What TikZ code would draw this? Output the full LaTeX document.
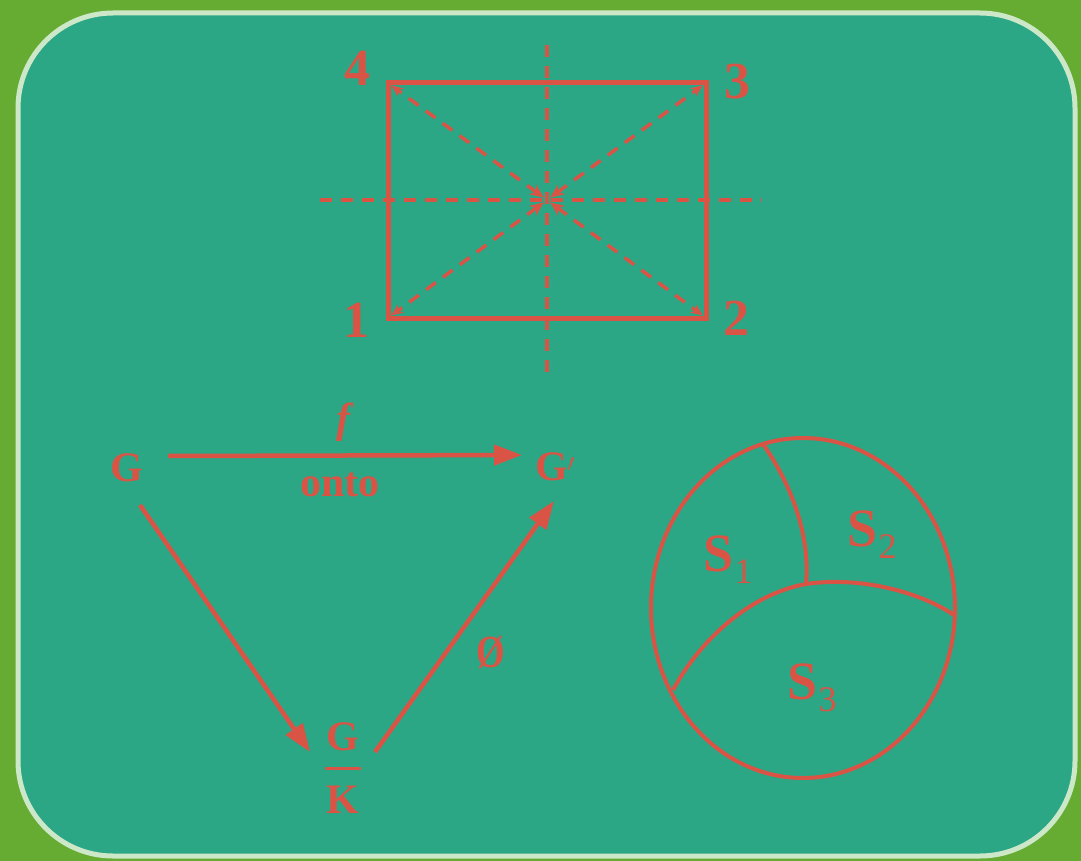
\documentclass[tikz,border=0pt]{standalone}
\usepackage{fontspec}
\setmainfont{Liberation Serif}
\usetikzlibrary{arrows.meta,calc}
\definecolor{bggreen}{RGB}{102,172,50}
\definecolor{panel}{RGB}{44,167,134}
\definecolor{rim}{RGB}{205,232,200}
\definecolor{chalk}{RGB}{218,84,70}
\begin{document}
\begin{tikzpicture}[x=1pt,y=-1pt,
  solidline/.style={draw=chalk,line width=5pt},
  dashline/.style={draw=chalk,line width=3.5pt,dash pattern=on 12pt off 9pt},
  arr/.style={draw=chalk,line width=4.5pt,-{Triangle[length=28pt,width=20pt]}},
  lbl/.style={text=chalk,font=\bfseries\fontsize{52}{52}\selectfont,inner sep=0pt},
  glbl/.style={text=chalk,font=\bfseries\fontsize{42}{42}\selectfont,inner sep=0pt},
  slbl/.style={text=chalk,font=\bfseries\fontsize{54}{54}\selectfont,inner sep=0pt}]
\useasboundingbox (0,0) rectangle (1081,861);
\fill[bggreen] (0,0) rectangle (1081,861);
\draw[rim,fill=panel,line width=5pt,rounded corners=95pt] (18,13) rectangle (1075,856);
% rectangle
\coordinate (c1) at (388,318);
\coordinate (c2) at (706,318);
\coordinate (c3) at (706,83);
\coordinate (c4) at (388,83);
\coordinate (cen) at (547,200);
\coordinate (hl) at (320,200);
\coordinate (hr) at (762,200);
\coordinate (vt) at (547,45);
\coordinate (vb) at (547,372);
\draw[dashline] (hl) -- (hr);
\draw[dashline] (vt) -- (vb);
\foreach \c in {c1,c2,c3,c4}{
  \draw[dashline,{Stealth[length=14pt,width=12pt]}-{Stealth[length=12pt,width=10pt]},shorten <=4pt,shorten >=4pt] (cen) -- (\c);
}
\draw[solidline] (c1) -- (c2) -- (c3) -- (c4) -- cycle;
\node[lbl] (n4) at (357,68) {4};
\node[lbl] (n3) at (737,82) {3};
\node[lbl] (n1) at (356,320) {1};
\node[lbl] (n2) at (736,318) {2};
% triangle
\node[glbl] (G) at (127,468) {G};
\node[glbl] (Gp) at (555,467) {G$'$};
\node[glbl] (qG) at (343,737) {G};
\node[glbl] (qK) at (343,800) {K};
\draw[chalk,line width=3pt] ($(qG)!0.5!(qK)+(-18,0)$) -- ($(qG)!0.5!(qK)+(18,0)$);
\draw[arr] ([shift={(41,-12)}]G.center) -- ([shift={(-33,-12)}]Gp.center);
\draw[arr] ([shift={(13,37)}]G.center) -- ([shift={(-33,15)}]qG.center);
\draw[arr] ([shift={(32,15)}]qG.center) -- ([shift={(-1,34)}]Gp.center);
\node[text=chalk,font=\bfseries\itshape\fontsize{42}{42}\selectfont,inner sep=0pt] (f) at (343,422) {f};
\node[glbl] (onto) at (340,485) {onto};
\node[text=chalk,font=\bfseries\fontsize{46}{46}\selectfont,inner sep=0pt] (phi) at (491,652) {\scalebox{0.8}[1]{Ø}};
% circle
\draw[solidline,line width=4pt] (803,608) ellipse [x radius=152, y radius=170];
\coordinate (ptop) at (763,444);
\coordinate (pj) at (806,584);
\coordinate (pl) at (673,690);
\coordinate (pr) at (954,615);
\draw[solidline,line width=4pt] (ptop) .. controls (795,490) and (810,540) .. (pj);
\draw[solidline,line width=4pt] (pl) .. controls (700,640) and (750,594) .. (pj) .. controls (860,576) and (920,592) .. (pr);
\node[slbl] (s1) at (728,560) {S\kern1pt\raisebox{-12pt}{\fontsize{36}{36}\selectfont\mdseries 1}};
\node[slbl] (s2) at (872,535) {S\kern1pt\raisebox{-12pt}{\fontsize{36}{36}\selectfont\mdseries 2}};
\node[slbl] (s3) at (812,688) {S\kern1pt\raisebox{-12pt}{\fontsize{36}{36}\selectfont\mdseries 3}};
\end{tikzpicture}
\end{document}
